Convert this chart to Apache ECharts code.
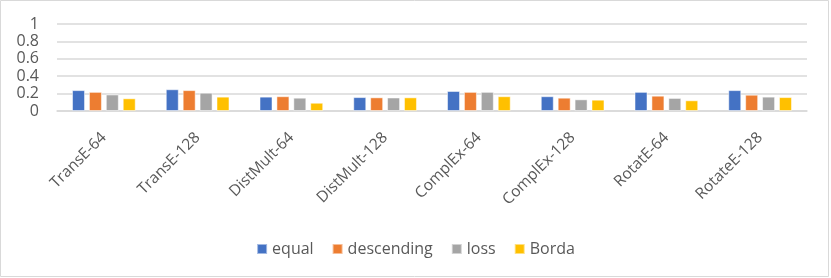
<!DOCTYPE html>
<html><head><meta charset="utf-8">
<script src="https://cdn.jsdelivr.net/npm/echarts@6/dist/echarts.min.js"></script>
<style>html,body{margin:0;padding:0;background:#fff}#c{width:831px;height:278px}</style>
</head><body><div id="c"></div>
<script>
var categories = ['TransE-64','TransE-128','DistMult-64','DistMult-128','ComplEx-64','ComplEx-128','RotatE-64','RotateE-128'];
var equal = [0.24,0.25,0.165,0.16,0.23,0.17,0.22,0.24];
var descending = [0.22,0.24,0.17,0.157,0.22,0.153,0.176,0.187];
var loss = [0.19,0.21,0.153,0.155,0.22,0.134,0.15,0.165];
var borda = [0.146,0.165,0.095,0.157,0.17,0.13,0.123,0.16];
var yTicks = [0,0.2,0.4,0.6,0.8,1];

var font = 'Open Sans, Noto Sans, sans-serif';
var chart = echarts.init(document.getElementById('c'));
function s(name, data, color){
  return {name:name,type:'bar',data:data,barWidth:13,barGap:'30%',
    itemStyle:{color:color,borderColor:'rgba(255,255,255,0.5)',borderWidth:1}};
}
chart.setOption({
  animation:false,
  graphic:[{type:'rect',shape:{x:0.5,y:0.5,width:828,height:276},style:{fill:'none',stroke:'#d9d9d9',lineWidth:1}}],
  grid:{left:57,right:24,top:24,bottom:167},
  legend:{bottom:16,left:'center',itemWidth:10,itemHeight:10,itemGap:18,icon:'rect',
    textStyle:{color:'#595959',fontSize:16,fontFamily:font},
    data:['equal','descending','loss','Borda']},
  xAxis:{type:'category',data:categories,
    axisLine:{lineStyle:{color:'#d9d9d9',width:1.5}},axisTick:{show:false},
    axisLabel:{rotate:45,color:'#595959',fontSize:15.5,fontFamily:font,margin:24,interval:0}},
  yAxis:{type:'value',min:0,max:1,interval:0.2,
    axisLine:{show:false},axisTick:{show:false},
    splitLine:{lineStyle:{color:'#d9d9d9',width:1.5}},
    axisLabel:{color:'#595959',fontSize:16,fontFamily:font,margin:18,
      formatter:function(v){return String(+v.toFixed(1));}}},
  series:[s('equal',equal,'#4472C4'),s('descending',descending,'#ED7D31'),s('loss',loss,'#A5A5A5'),s('Borda',borda,'#FFC000')]
});
</script></body></html>
